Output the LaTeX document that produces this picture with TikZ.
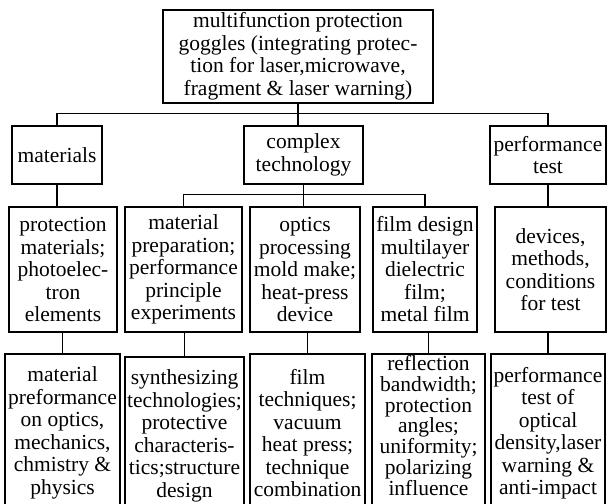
\documentclass[tikz,border=0pt]{standalone}
\usepackage{fontspec}
\setmainfont{Liberation Serif}
\newcommand\boxfont{\fontsize{21.5}{22.5}\selectfont}
\tikzset{
  box/.style={draw, line width=1.3pt, inner sep=0pt, align=center, font=\boxfont},
  boxtext/.style={inner sep=0pt, align=center, font=\boxfont},
  link/.style={line width=1.3pt}
}
\begin{document}
\begin{tikzpicture}[x=1pt,y=-1pt]
\useasboundingbox (0,0) rectangle (610,503);
\clip (0,0) rectangle (610,503);
\fill[white] (0,0) rectangle (610,503);
% level 1
\node[box, minimum width=270pt, minimum height=93pt] (top) at (298,56.5)
  {multifunction protection\\goggles (integrating protec-\\tion for laser,microwave,\\fragment \& laser warning)};
% level 2
\node[box, minimum width=90pt, minimum height=58pt] (mat) at (57,155) {materials};
\node[box, minimum width=119pt, minimum height=58pt] (cpx) at (303.5,155) {complex\\technology};
\node[box, minimum width=116pt, minimum height=58pt] (perf) at (548,155) {performance\\test};
% level 3
\node[box, minimum width=108pt, minimum height=125pt] (l3a) at (63,269.5)
  {protection\\materials;\\photoelec-\\tron\\elements};
\node[box, minimum width=117pt, minimum height=125pt] (l3b) at (183.5,269.5)
  {material\\preparation;\\performance\\principle\\experiments};
\node[box, minimum width=110pt, minimum height=125pt] (l3c) at (305,269.5)
  {optics\\processing\\mold make;\\heat-press\\device};
\node[box, minimum width=104pt, minimum height=125pt] (l3d) at (425,269.5)
  {film design\\multilayer\\dielectric\\film;\\metal film};
\node[box, minimum width=111pt, minimum height=125pt] (l3e) at (550.5,269.5)
  {devices,\\methods,\\conditions\\for test};
% level 4
\node[box, minimum width=115pt, minimum height=158pt] (l4a) at (62.5,433)
  {material\\preformance\\on optics,\\mechanics,\\chmistry \&\\physics};
\node[box, minimum width=119pt, minimum height=158pt] (l4b) at (184.5,436)
  {synthesizing\\technologies;\\protective\\characteris-\\tics;structure\\design};
\node[box, minimum width=115pt, minimum height=158pt] (l4c) at (307.5,433)
  {film\\techniques;\\vacuum\\heat press;\\technique\\combination};
\node[box, minimum width=113pt, minimum height=158pt] (l4d) at (428.5,433) {};
\node[boxtext, font=\fontsize{21.5}{20.8}\selectfont] (l4dtext) at (428.5,425.5)
  {reflection\\bandwidth;\\protection\\angles;\\uniformity;\\polarizing\\influence};
\node[box, minimum width=114pt, minimum height=158pt] (l4e) at (548,433)
  {performance\\test of\\optical\\density,laser\\warning \&\\anti-impact};
% connectors level 1 -> 2
\draw[link] (top.south) -- (top.south |- cpx.north);
\draw[link] (mat.north) -- ++(0,-12) -| (perf.north);
% level 2 -> 3
\draw[link] (mat.south) -- (mat.south |- l3a.north);
\draw[link] (cpx.south) -- (cpx.south |- l3c.north);
\draw[link] (l3b.north) -- ++(0,-12) -| (l3d.north);
\draw[link] (perf.south) -- (perf.south |- l3e.north);
% level 3 -> 4
\draw[link] (l4a.north |- l3a.south) -- (l4a.north);
\draw[link] (l4b.north |- l3b.south) -- (l4b.north);
\draw[link] (l4c.north |- l3c.south) -- (l4c.north);
\draw[link] (l4d.north |- l3d.south) -- (l4d.north);
\draw[link] (l4e.north |- l3e.south) -- (l4e.north);
\end{tikzpicture}
\end{document}
